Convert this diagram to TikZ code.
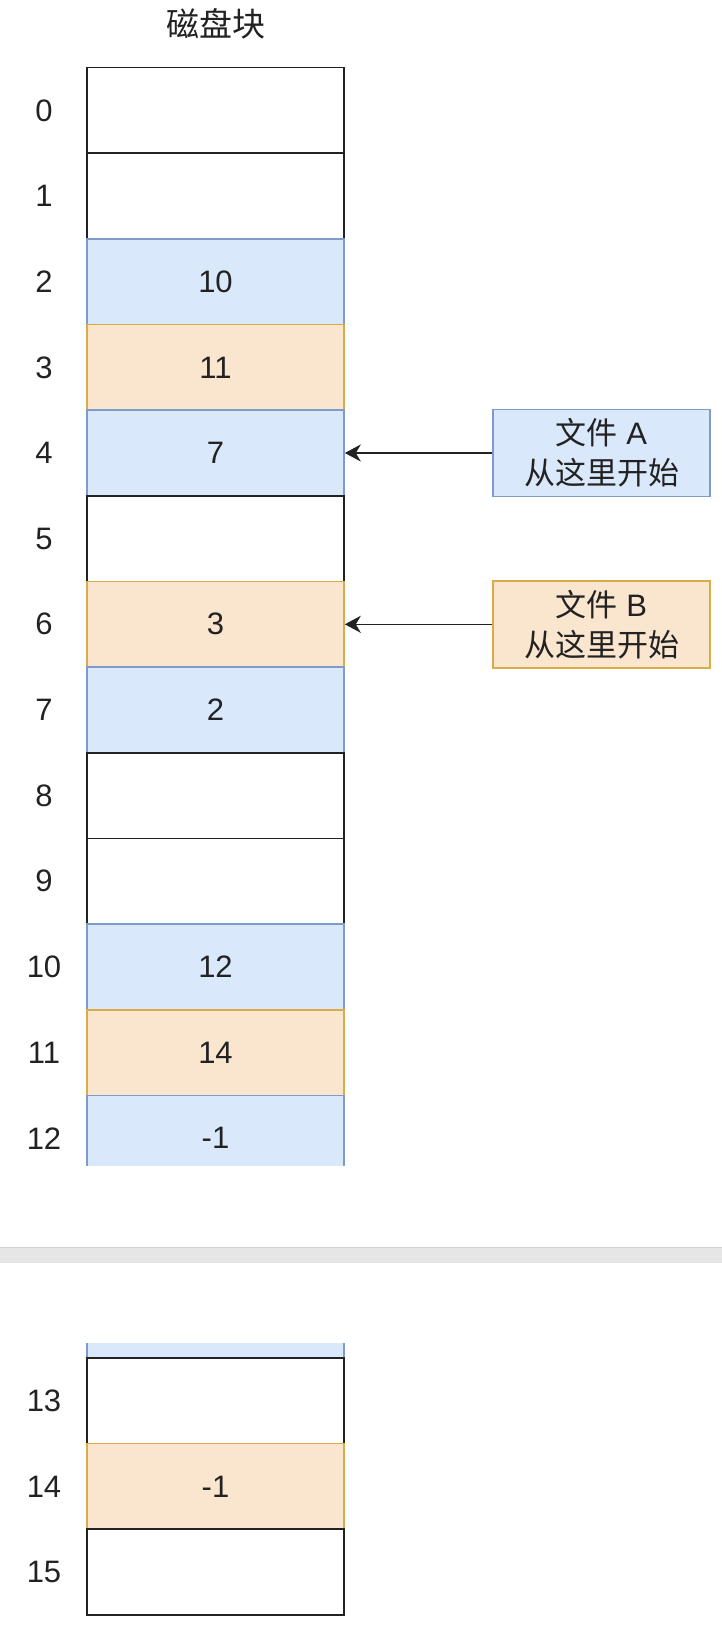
\documentclass[tikz,border=0pt]{standalone}
\usepackage{fontspec}
\setmainfont{Liberation Sans}
\newfontfamily\cjk{Noto Sans CJK SC}
\usetikzlibrary{arrows.meta}
\definecolor{blueF}{HTML}{DAE8FC}
\definecolor{blueD}{HTML}{7F9BCB}
\definecolor{orF}{HTML}{FAE5CE}
\definecolor{orD}{HTML}{D9AC45}
\definecolor{lineC}{HTML}{222222}
\definecolor{sepF}{HTML}{E6E6E6}
\definecolor{sepD}{HTML}{D2D2D2}
\tikzset{
  cellbase/.style={minimum width=257pt, minimum height=85.65pt, inner sep=0pt, line width=1.6pt,
    font=\fontsize{31}{36}\selectfont, text=lineC},
  cw/.style={cellbase, draw=lineC, fill=white},
  cb/.style={cellbase, draw=blueD, fill=blueF},
  co/.style={cellbase, draw=orD, fill=orF},
  lbl/.style={font=\fontsize{31}{36}\selectfont, text=lineC, inner sep=0pt},
  note/.style={minimum width=217pt, minimum height=87pt, inner sep=0pt, line width=1.6pt,
    font=\fontsize{31}{40}\selectfont, align=center, text=lineC},
  ptr/.style={line width=1.6pt, draw=lineC, -{Stealth[length=16pt,width=17pt,inset=5pt]}}
}
\begin{document}
\begin{tikzpicture}[x=1pt,y=-1pt]
\useasboundingbox (0,0) rectangle (722,1632);
\fill[white] (0,0) rectangle (722,1632);
% title
\node[font=\cjk\fontsize{33}{36}\selectfont, text=lineC] (title) at (215.5,24) {磁盘块};
% upper cells
\foreach \i/\s/\t in {0/cw/,1/cw/,2/cb/10,3/co/11,4/cb/7,5/cw/,6/co/3,7/cb/2,8/cw/,9/cw/,10/cb/12,11/co/14}{
  \node[\s] (c\i) at (215.5,{110.4+85.65*\i}) {\t};
  \node[lbl] (l\i) at (44,{110.4+85.65*\i}) {\i};
}
% row 12 (cut)
\fill[blueF] (87,1095.4) rectangle (344,1166);
\draw[blueD, line width=1.6pt] (87,1166) -- (87,1095.4) -- (344,1095.4) -- (344,1166);
\node[lbl] (c12) at (215.5,1138.2) {-1};
\node[lbl] (l12) at (44,1138.2) {12};
% separator band
\fill[sepF] (0,1247) rectangle (722,1263);
\draw[sepD, line width=1pt] (0,1247.5) -- (722,1247.5);
\draw[sepD!60, line width=0.8pt] (0,1262.5) -- (722,1262.5);
% continuation strip
\fill[blueF] (87,1343) rectangle (344,1358);
\draw[blueD, line width=1.6pt] (87,1343) -- (87,1358) (344,1343) -- (344,1358);
% lower cells
\foreach \i/\s/\t in {13/cw/,14/co/-1,15/cw/}{
  \node[\s] (c\i) at (215.5,{1400.8+85.6*(\i-13)}) {\t};
  \node[lbl] (l\i) at (44,{1400.8+85.6*(\i-13)}) {\i};
}
% notes
\node[note, draw=blueD, fill=blueF] (fa) at (601.5,453.0) {{\cjk 文件} A\\{\cjk 从这里开始}};
\node[note, draw=orD, fill=orF] (fb) at (601.5,624.3) {{\cjk 文件} B\\{\cjk 从这里开始}};
\draw[ptr] (fa.west) -- (fa.west -| c4.east);
\draw[ptr] (fb.west) -- (fb.west -| c6.east);
\end{tikzpicture}
\end{document}
